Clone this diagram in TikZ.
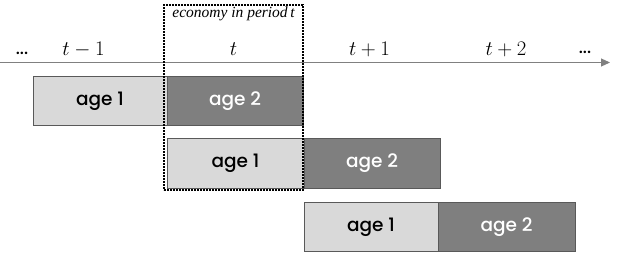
\documentclass[tikz,border=0pt]{standalone}
\usepackage{fontspec}
\setsansfont{Poppins}[UprightFont={* Medium}]
\newfontfamily\timesit{Liberation Serif}
\usetikzlibrary{arrows.meta}
\definecolor{lightbox}{HTML}{D9D9D9}
\definecolor{darkbox}{HTML}{7F7F7F}
\definecolor{axisgrey}{HTML}{808080}
\begin{document}
\begin{tikzpicture}[x=1pt,y=-1pt,
  agebox/.style={draw=black!65, line width=0.8pt, minimum height=49.5pt, inner sep=0pt,
    font=\sffamily\fontsize{18.5}{22}\selectfont},
  youngbox/.style={agebox, fill=lightbox, text=black},
  oldbox/.style={agebox, fill=darkbox, text=white},
  period/.style={anchor=base, inner sep=0pt, font=\fontsize{21.5}{24}\selectfont},
  dots/.style={anchor=base, inner sep=0pt, font=\sffamily\fontsize{17}{20}\selectfont}]
\useasboundingbox (0,0) rectangle (620,252);
% axis
\coordinate (ax0) at (0,62.5);
\coordinate (ax1) at (610,62.5);
\draw[axisgrey, line width=1pt, -{Triangle[length=9pt,width=8pt]}] (ax0) -- (ax1);
% period labels
\node[dots] (ldots) at (22,54) {...};
\node[period] (tm1) at (83.5,55) {$t-1$};
\node[period] (t0) at (233.5,55) {$t$};
\node[period] (tp1) at (369.5,55) {$t+1$};
\node[period] (tp2) at (506,55) {$t+2$};
\node[dots] (rdots) at (585,53) {...};
% row 1
\node[youngbox, minimum width=134pt] (a1) at (100,101) {age 1};
\node[oldbox, minimum width=136pt] (b1) at (235,101) {age 2};
% row 2
\node[youngbox, minimum width=137pt] (a2) at (235.5,163.5) {age 1};
\node[oldbox, minimum width=136pt] (b2) at (372,163.5) {age 2};
% row 3
\node[youngbox, minimum width=134pt] (a3) at (371,227) {age 1};
\node[oldbox, minimum width=137pt] (b3) at (506.5,227) {age 2};
% economy box
\node[draw=black, line width=1.6pt, dash pattern=on 1.6pt off 1.4pt,
  minimum width=139pt, minimum height=185pt, inner sep=0pt] (eco) at (233.5,97.5) {};
\node[anchor=north, inner sep=0pt, font=\timesit\itshape\fontsize{15.5}{17}\selectfont]
  (ecolabel) at ([yshift=-2.5pt]eco.north) {economy in period\,t};
\end{tikzpicture}
\end{document}
